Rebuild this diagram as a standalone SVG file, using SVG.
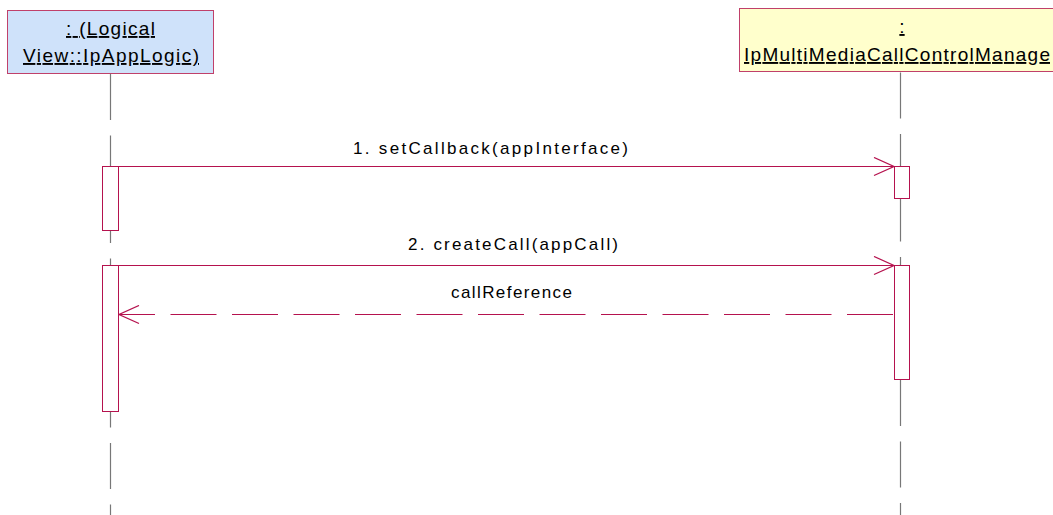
<svg xmlns="http://www.w3.org/2000/svg" width="1053" height="515" viewBox="0 0 1053 515">
<defs>
<style>
.lbl{font-family:"Liberation Sans",Arial,sans-serif;fill:#000}
.box{font-size:19px;text-decoration:underline}
.msg{font-size:17px}
.life{stroke:#777;stroke-width:1.2;fill:none;stroke-dasharray:46 15.5}
.act{fill:#fff;stroke:#b5124e;stroke-width:1}
.m{stroke:#b5124e;stroke-width:1;fill:none}
</style>
<marker id="open" viewBox="0 0 22 20" refX="21" refY="10" markerWidth="22" markerHeight="20" markerUnits="userSpaceOnUse" orient="auto">
<path d="M1,1 L21,10 L1,19" fill="none" stroke="#b5124e" stroke-width="1.3"/>
</marker>
</defs>
<rect width="1053" height="515" fill="#fff"/>
<g id="node-applogic">
<rect x="7.5" y="10.5" width="206" height="63" fill="#cfe2fa" stroke="#c0406a" stroke-width="1"/>
<text class="lbl box" x="66" y="35" textLength="89" lengthAdjust="spacing">: (Logical</text>
<text class="lbl box" x="23" y="62" textLength="176" lengthAdjust="spacing">View::IpAppLogic)</text>
<line class="life" x1="110.5" y1="74" x2="110.5" y2="515"/>
<rect class="act" x="102.5" y="166.5" width="16" height="64"/>
<rect class="act" x="102.5" y="265.5" width="16" height="146"/>
</g>
<g id="node-manager">
<rect x="739.5" y="8.5" width="320" height="63" fill="#ffffcc" stroke="#c0406a" stroke-width="1"/>
<text class="lbl box" x="902" y="33" text-anchor="middle">:</text>
<text class="lbl box" x="744" y="61" textLength="306" lengthAdjust="spacing">IpMultiMediaCallControlManage</text>
<line class="life" x1="900.5" y1="72.5" x2="900.5" y2="515"/>
<rect class="act" x="894.5" y="166.5" width="15" height="32"/>
<rect class="act" x="894.5" y="265.5" width="15" height="114"/>
</g>
<g id="connectors">
<line class="m" x1="119" y1="166.5" x2="894" y2="166.5" marker-end="url(#open)"/>
<text class="lbl msg" x="353" y="154" textLength="275" lengthAdjust="spacing">1. setCallback(appInterface)</text>
<line class="m" x1="119" y1="265.5" x2="894" y2="265.5" marker-end="url(#open)"/>
<text class="lbl msg" x="408" y="250" textLength="210" lengthAdjust="spacing">2. createCall(appCall)</text>
<line class="m" x1="893" y1="314.5" x2="170" y2="314.5" stroke-dasharray="46 15.5"/>
<line class="m" x1="155" y1="314.5" x2="119" y2="314.5" marker-end="url(#open)"/>
<text class="lbl msg" x="451" y="298" textLength="121" lengthAdjust="spacing">callReference</text>
</g>
</svg>
